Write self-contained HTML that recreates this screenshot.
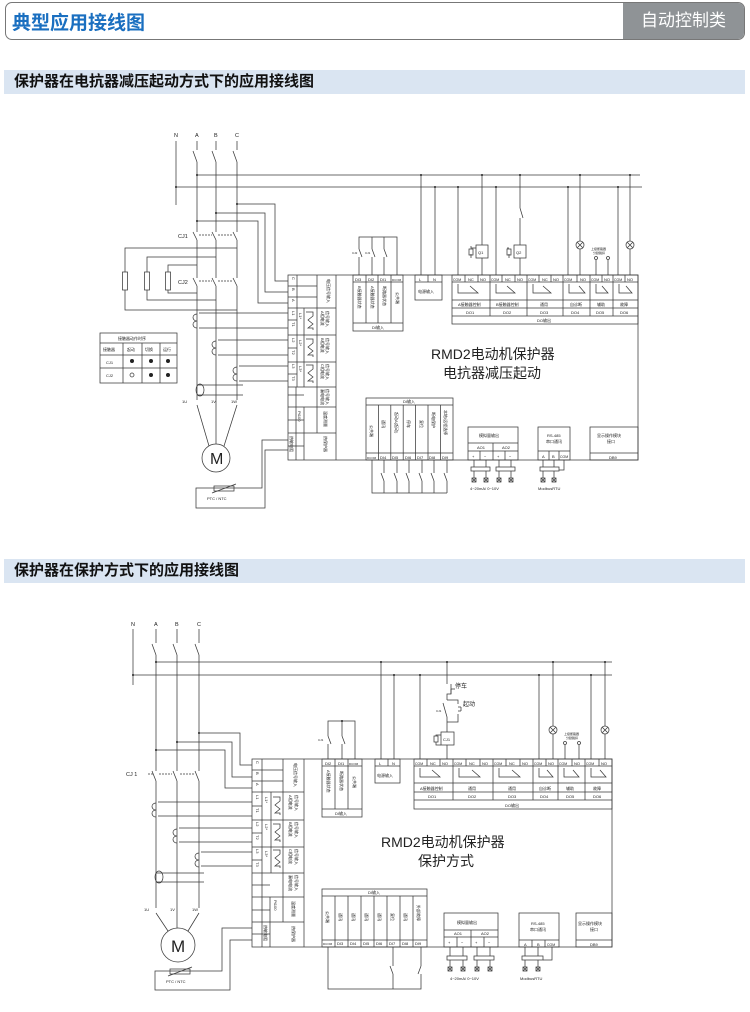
<!DOCTYPE html>
<html><head><meta charset="utf-8"><style>
html,body{margin:0;padding:0;background:#fff;}
body{width:750px;height:1012px;position:relative;overflow:hidden;font-family:"Liberation Sans","Noto Sans CJK SC",sans-serif;}
.hdr{position:absolute;left:5px;top:2px;width:738px;height:36px;border:1px solid #777;border-radius:7px;overflow:hidden;}
.hdr .t{position:absolute;left:6px;top:5px;font-size:19px;font-weight:bold;color:#1a6fc0;}
.hdr .g{position:absolute;right:0;top:0;width:121px;height:36px;background:#8f9396;color:#fff;font-size:17px;line-height:36px;text-align:center;}
.bar{position:absolute;left:4px;width:741px;height:24px;background:#dae5f2;font-size:15px;font-weight:bold;color:#111;line-height:24px;text-indent:10px;}
svg{position:absolute;left:0;top:0;}
svg line,svg path,svg rect,svg circle,svg ellipse{stroke:#3a3a3a;stroke-width:.75;fill:none;}
svg text{font-family:"Liberation Sans","Noto Sans CJK SC",sans-serif;fill:#222;stroke:none;}
.s{font-size:4px;}
.m{font-size:5.5px;}
.dot{fill:#222 !important;stroke:none !important;}
.wm{font-size:46px;fill:none;stroke:#e6e6e6 !important;stroke-width:.8;}
</style></head><body>
<div class="hdr"><div class="t">典型应用接线图</div><div class="g">自动控制类</div></div>
<div class="bar" style="top:70px">保护器在电抗器减压起动方式下的应用接线图</div>
<div class="bar" style="top:559px">保护器在保护方式下的应用接线图</div>

<svg width="750" height="1012" viewBox="0 0 750 1012">
<!-- ============ DIAGRAM 1 ============ -->
<g>
<text x="174" y="137" class="m">N</text><text x="195" y="137" class="m">A</text><text x="214" y="137" class="m">B</text><text x="235" y="137" class="m">C</text>
<line x1="176" y1="141" x2="176" y2="205"/>
<path d="M197 141V150M197 162L193 151M197 162V232M197 240L193 232M197 240V278M197 286L193 278M197 286V400"/>
<path d="M216 141V150M216 162L212 151M216 162V232M216 240L212 232M216 240V278M216 286L212 278M216 286V444"/>
<path d="M237 141V150M237 162L233 151M237 162V232M237 240L233 232M237 240V278M237 286L233 278M237 286V400"/>
<path d="M199 235H212M218 235H232M199 281H212M218 281H232" stroke-dasharray="2,1"/>
<text x="178" y="238" class="m">CJ1</text><text x="178" y="284" class="m">CJ2</text>
<line x1="197" y1="175" x2="640" y2="175"/><line x1="176" y1="187" x2="642" y2="187"/>
<circle cx="197" cy="175" r="1" class="dot"/><circle cx="176" cy="187" r="1" class="dot"/>
<!-- resistors -->
<path d="M237 248H125V272M125 290V310H237"/><rect x="122.5" y="272" width="5" height="18"/>
<path d="M216 257H147V272M147 290V300H216"/><rect x="144.5" y="272" width="5" height="18"/>
<path d="M197 265H168V272M168 290V293H197"/><rect x="165.5" y="272" width="5" height="18"/>
<!-- wires to ABC -->
<path d="M237 204H275V281H288"/><path d="M216 213H265V292H288"/><path d="M197 221H258V303H288"/>
<circle cx="237" cy="204" r="1" class="dot"/><circle cx="216" cy="213" r="1" class="dot"/><circle cx="197" cy="221" r="1" class="dot"/>
<!-- CTs -->
<path d="M199 313H288M199 328H288"/><path d="M197 314a4 3.5 0 1 0 0 7a4 3.5 0 1 0 0 7"/>
<path d="M218 340H288M218 355H288"/><path d="M216 341a4 3.5 0 1 0 0 7a4 3.5 0 1 0 0 7"/>
<path d="M239 366H288M239 381H288"/><path d="M237 367a4 3.5 0 1 0 0 7a4 3.5 0 1 0 0 7"/>
<path d="M197 385H243M197 395H243"/><ellipse cx="200" cy="390" rx="4" ry="6"/>
<!-- motor -->
<text x="182" y="403" class="s">1U</text><text x="211" y="403" class="s">1V</text><text x="231" y="403" class="s">1W</text>
<path d="M197 405L209 446M237 405L224 446"/>
<circle cx="216" cy="458" r="14"/><text x="210" y="464" style="font-size:16px">M</text>
<path d="M288 440H262V488H196V508H265V450H288"/>
<rect x="214" y="486" width="20" height="5"/><path d="M212 493L236 484"/>
<text x="207" y="500" class="s">PTC / NTC</text>
<!-- table -->
<rect x="100" y="333" width="77" height="50"/>
<path d="M100 343H177M100 355H177M100 368H177M123 343V383M142 343V383M160 343V383"/>
<text x="118" y="340" class="s">接触器动作时序</text>
<text x="103" y="351" class="s">接触器</text><text x="127" y="351" class="s">起动</text><text x="145" y="351" class="s">切换</text><text x="163" y="351" class="s">运行</text>
<text x="106" y="364" class="s">CJ1</text><text x="106" y="377" class="s">CJ2</text>
<circle cx="132" cy="361" r="2" class="dot"/><circle cx="151" cy="361" r="2" class="dot"/><circle cx="168" cy="361" r="2" class="dot"/>
<circle cx="132" cy="375" r="2"/><circle cx="151" cy="375" r="2" class="dot"/><circle cx="168" cy="375" r="2" class="dot"/>
<!-- module -->
<rect x="288" y="275" width="350" height="185"/>
<line x1="336" y1="275" x2="336" y2="460"/>
<path d="M288 286H317M288 297H317M288 308H336M288 335H336M288 362H336M288 387H336M288 407H336M288 433H336"/>
<path d="M297 275V308M297 308V387M304 308V387M317 275V433M304 407V460M296 387V460M288 320H297M288 348H297M288 374H297M288 395H304M288 420H304M288 446H304"/>
<text class="s" transform="translate(292,277) rotate(90)">C</text><text class="s" transform="translate(292,288) rotate(90)">B</text><text class="s" transform="translate(292,299) rotate(90)">A</text>
<text class="s" transform="translate(327,279) rotate(90)">电压信号输入</text>
<text class="s" transform="translate(292,311) rotate(90)">L1</text><text class="s" transform="translate(292,322) rotate(90)">T1</text><text class="s" transform="translate(299,313) rotate(90)">L1*</text>
<text class="s" transform="translate(292,338) rotate(90)">L2</text><text class="s" transform="translate(292,350) rotate(90)">T2</text><text class="s" transform="translate(299,340) rotate(90)">L2*</text>
<text class="s" transform="translate(292,364) rotate(90)">L3</text><text class="s" transform="translate(292,376) rotate(90)">T3</text><text class="s" transform="translate(299,366) rotate(90)">L3*</text>
<path d="M306 312H313V316L308 320L313 324L308 328H313V330"/><path d="M306 339H313V343L308 347L313 351L308 355H313V357"/><path d="M306 365H313V369L308 373L313 377L308 381H313V383"/>
<text class="s" transform="translate(321,311) rotate(90)">A相电流</text><text class="s" transform="translate(326,311) rotate(90)">信号输入</text>
<text class="s" transform="translate(321,338) rotate(90)">B相电流</text><text class="s" transform="translate(326,338) rotate(90)">信号输入</text>
<text class="s" transform="translate(321,364) rotate(90)">C相电流</text><text class="s" transform="translate(326,364) rotate(90)">信号输入</text>
<text class="s" transform="translate(321,389) rotate(90)">漏电电流</text><text class="s" transform="translate(326,389) rotate(90)">信号输入</text>
<text class="s" transform="translate(298,411) rotate(90)">Pt100</text><text class="s" transform="translate(324,411) rotate(90)">温度测量</text>
<text class="s" transform="translate(290,436) rotate(90)">热敏电阻</text><text class="s" transform="translate(324,436) rotate(90)">热保护器</text>
<!-- DI top -->
<rect x="353" y="275" width="50" height="56"/><path d="M353 282H403M353 323H403M366 275V323M378 275V323M391 275V323"/>
<text x="355" y="281" class="s">DI3</text><text x="368" y="281" class="s">DI2</text><text x="380" y="281" class="s">DI1</text><text x="392" y="281" style="font-size:3px">DCOM</text>
<text class="s" transform="translate(358,286) rotate(90)">B接触器状态</text><text class="s" transform="translate(371,286) rotate(90)">A接触器状态</text><text class="s" transform="translate(383,286) rotate(90)">断路器状态</text><text class="s" transform="translate(396,292) rotate(90)">公共端</text>
<text x="372" y="329" class="s">DI输入</text>
<path d="M359 275V257M359 249L362 257M359 249V237H397V275M372 275V257M372 249L375 257M372 249V237M384 275V257M384 249L387 257M384 249V237"/>
<text x="352" y="254" style="font-size:3px">CJ2</text><text x="365" y="254" style="font-size:3px">CJ1</text>
<!-- power -->
<rect x="415" y="275" width="27" height="25"/><path d="M415 282H442M428 275V282"/>
<text x="419" y="281" class="s">L</text><text x="433" y="281" class="s">N</text><text x="418" y="293" class="s">电源输入</text>
<path d="M421 275V175M435 275V187"/><circle cx="421" cy="175" r="1" class="dot"/><circle cx="435" cy="187" r="1" class="dot"/>
<!-- DO -->
<rect x="452" y="275" width="186" height="49"/>
<path d="M452 282H638M452 300H638M452 308H638M452 316H638M490 275V316M527 275V316M563 275V316M590 275V316M613 275V316"/>
<path d="M465 275V282M478 275V282M502 275V282M515 275V282M539 275V282M551 275V282M577 275V282M602 275V282M625 275V282"/>
<g class="s"><text x="453" y="281" style="font-size:3.5px">COM</text><text x="468" y="281">NC</text><text x="480" y="281">NO</text>
<text x="491" y="281" style="font-size:3.5px">COM</text><text x="505" y="281">NC</text><text x="517" y="281">NO</text>
<text x="528" y="281" style="font-size:3.5px">COM</text><text x="542" y="281">NC</text><text x="553" y="281">NO</text>
<text x="564" y="281" style="font-size:3.5px">COM</text><text x="580" y="281">NO</text>
<text x="591" y="281" style="font-size:3.5px">COM</text><text x="604" y="281">NO</text>
<text x="614" y="281" style="font-size:3.5px">COM</text><text x="627" y="281">NO</text></g>
<path d="M458 284V293H478L470 286M496 284V293H515L507 286M533 284V293H551L543 286M569 284V293H585L579 286M596 284V293H608L602 286M619 284V293H632L626 286"/>
<g class="s"><text x="458" y="306">A接触器控制</text><text x="496" y="306">B接触器控制</text><text x="540" y="306">通用</text><text x="570" y="306">自诊断</text><text x="597" y="306">辅助</text><text x="620" y="306">故障</text>
<text x="466" y="314">DO1</text><text x="503" y="314">DO2</text><text x="540" y="314">DO3</text><text x="571" y="314">DO4</text><text x="596" y="314">DO5</text><text x="620" y="314">DO6</text>
<text x="537" y="322">DO输出</text></g>
<path d="M458 275V187M496 275V187M568 275V187M618 275V187"/>
<path d="M482 275V258M482 245V175M520 275V258M520 245V218M520 208L523 218M520 208V175"/>
<rect x="476" y="245" width="12" height="13"/><text x="478" y="254" class="s">Q1</text>
<rect x="514" y="245" width="12" height="13"/><text x="516" y="254" class="s">Q2</text>
<path d="M476 248H471V246M471 258V254M507 248H509M509 258V254" /><rect x="469" y="249" width="4" height="6"/><rect x="507" y="249" width="4" height="6"/>
<path d="M580 275V249M580 241V175M630 275V249M630 241V175"/>
<circle cx="580" cy="245" r="4"/><path d="M577 242L583 248M583 242L577 248"/>
<circle cx="630" cy="245" r="4"/><path d="M627 242L633 248M633 242L627 248"/>
<text x="591" y="250" style="font-size:3px">上级断路器</text><text x="593" y="254" style="font-size:3px">分励脱扣</text>
<path d="M596 275V260M608 275V260"/><circle cx="596" cy="258" r="1.5"/><circle cx="608" cy="258" r="1.5"/>
<circle cx="458" cy="187" r="1" class="dot"/><circle cx="496" cy="187" r="1" class="dot"/><circle cx="568" cy="187" r="1" class="dot"/><circle cx="618" cy="187" r="1" class="dot"/>
<circle cx="482" cy="175" r="1" class="dot"/><circle cx="520" cy="175" r="1" class="dot"/><circle cx="580" cy="175" r="1" class="dot"/><circle cx="630" cy="175" r="1" class="dot"/>
<text x="431" y="359" style="font-size:14px">RMD2电动机保护器</text>
<text x="443" y="378" style="font-size:14px">电抗器减压起动</text>
<!-- DI bottom -->
<rect x="366" y="398" width="87" height="62"/><path d="M366 405H453M366 453H453"/>
<path d="M378.4 405V460M390.8 405V460M403.2 405V460M415.6 405V460M428 405V460M440.4 405V460"/>
<text x="403" y="403" class="s">DI输入</text>
<g class="s"><text transform="translate(370,425) rotate(90)">公共端</text><text transform="translate(382,420) rotate(90)">通讯</text><text transform="translate(395,412) rotate(90)">起动A(起动)</text><text transform="translate(407,420) rotate(90)">停车</text><text transform="translate(420,420) rotate(90)">复位</text><text transform="translate(432,412) rotate(90)">断电保护</text><text transform="translate(444,410) rotate(90)">本地/远程选择</text>
<text x="367" y="459" style="font-size:3px">DCOM</text><text x="380" y="459">DI4</text><text x="392" y="459">DI5</text><text x="405" y="459">DI6</text><text x="417" y="459">DI7</text><text x="429" y="459">DI8</text><text x="442" y="459">DI9</text></g>
<path d="M372 460V493H447M384 460V473M384 481L381 473M384 481V493M397 460V473M397 481L394 473M397 481V493M409 460V473M409 481L406 473M409 481V493M422 460V473M422 481L419 473M422 481V493M434 460V473M434 481L431 473M434 481V493M447 460V473M447 481L444 473M447 481V493"/>
<!-- analog -->
<rect x="468" y="427" width="50" height="33"/><path d="M468 443H518M468 451H518M493 443V460M480 451V460M505 451V460"/>
<text x="479" y="437" class="s">模拟量输出</text><text x="477" y="449" class="s">AO1</text><text x="502" y="449" class="s">AO2</text>
<text x="472" y="458" class="s">+</text><text x="484" y="458" class="s">−</text><text x="497" y="458" class="s">+</text><text x="509" y="458" class="s">−</text>
<path d="M474 460V467M486 460V467M499 460V467M511 460V467M474 471V478M486 471V478M499 471V478M511 471V478"/>
<rect x="471" y="467" width="19" height="4"/><rect x="496" y="467" width="19" height="4"/>
<g><rect x="472" y="478" width="4" height="4"/><path d="M472 478l4 4M476 478l-4 4"/><rect x="484" y="478" width="4" height="4"/><path d="M484 478l4 4M488 478l-4 4"/><rect x="497" y="478" width="4" height="4"/><path d="M497 478l4 4M501 478l-4 4"/><rect x="509" y="478" width="4" height="4"/><path d="M509 478l4 4M513 478l-4 4"/></g>
<text x="470" y="490" class="s">4~20mA/  0~10V</text>
<!-- 485 -->
<rect x="538" y="427" width="32" height="33"/><path d="M538 451H570M549 451V460M559 451V460"/>
<text x="547" y="437" class="s">RS-485</text><text x="546" y="443" class="s">串口通讯</text>
<text x="542" y="458" class="s">A</text><text x="552" y="458" class="s">B</text><text x="560" y="458" style="font-size:3.5px">COM</text>
<path d="M543 460V467M554 460V467M564 460V470H559M543 471V478M554 471V478"/><rect x="540" y="467" width="19" height="4"/>
<rect x="541" y="478" width="4" height="4"/><path d="M541 478l4 4M545 478l-4 4"/><rect x="552" y="478" width="4" height="4"/><path d="M552 478l4 4M556 478l-4 4"/>
<text x="538" y="490" class="s">ModbusRTU</text>
<rect x="590" y="427" width="48" height="33"/><path d="M590 453H638"/>
<text x="597" y="437" class="s">显示操作模块</text><text x="607" y="443" class="s">接口</text><text x="609" y="459" class="s">DB9</text>
</g>

<!-- ============ DIAGRAM 2 ============ -->
<g>
<text x="131" y="626" class="m">N</text><text x="154" y="626" class="m">A</text><text x="175" y="626" class="m">B</text><text x="197" y="626" class="m">C</text>
<line x1="133" y1="629" x2="133" y2="685"/>
<path d="M156 629V643M156 655L152 644M156 655V771M156 781L152 771M156 781V908"/>
<path d="M177 629V643M177 655L173 644M177 655V771M177 781L173 771M177 781V928"/>
<path d="M199 629V643M199 655L195 644M199 655V771M199 781L195 771M199 781V908"/>
<path d="M148 774H154M159 774H172M180 774H195" stroke-dasharray="2,1"/>
<text x="126" y="776" class="m">CJ 1</text>
<line x1="156" y1="662" x2="612" y2="662"/><line x1="133" y1="675" x2="612" y2="675"/>
<circle cx="156" cy="662" r="1" class="dot"/><circle cx="133" cy="675" r="1" class="dot"/>
<path d="M199 733H240V765H252"/><path d="M177 742H232V777H252"/><path d="M156 750H225V788H252"/>
<circle cx="199" cy="733" r="1" class="dot"/><circle cx="177" cy="742" r="1" class="dot"/><circle cx="156" cy="750" r="1" class="dot"/>
<path d="M158 802H252M158 816H252"/><path d="M156 803a4 3.5 0 1 0 0 7a4 3.5 0 1 0 0 7"/>
<path d="M179 828H252M179 842H252"/><path d="M177 829a4 3.5 0 1 0 0 7a4 3.5 0 1 0 0 7"/>
<path d="M201 852H252M201 866H252"/><path d="M199 853a4 3.5 0 1 0 0 7a4 3.5 0 1 0 0 7"/>
<path d="M156 873H204M156 882H204"/><ellipse cx="159" cy="877" rx="4" ry="6"/>
<text x="144" y="911" class="s">1U</text><text x="170" y="911" class="s">1V</text><text x="192" y="911" class="s">1W</text>
<path d="M156 913L168 931M199 913L188 931"/>
<circle cx="178" cy="945" r="17"/><text x="171" y="952" style="font-size:17px">M</text>
<path d="M252 928H222V971H155V990H230V940H252"/>
<rect x="170" y="969" width="20" height="5"/><path d="M168 976L192 967"/>
<text x="166" y="983" class="s">PTC / NTC</text>
<!-- module -->
<rect x="252" y="759" width="360" height="188"/>
<line x1="304" y1="759" x2="304" y2="947"/>
<path d="M252 770H283M252 781H283M252 792H304M252 820H304M252 847H304M252 873H304M252 897H304M252 922H304"/>
<path d="M262 759V873M271 792V873M283 759V922M270 897V947M262 873V947M252 806H262M252 833H262M252 860H262M252 885H270M252 910H270M252 934H270"/>
<text class="s" transform="translate(256,761) rotate(90)">C</text><text class="s" transform="translate(256,772) rotate(90)">B</text><text class="s" transform="translate(256,783) rotate(90)">A</text>
<text class="s" transform="translate(294,763) rotate(90)">电压信号输入</text>
<text class="s" transform="translate(256,795) rotate(90)">L1</text><text class="s" transform="translate(256,808) rotate(90)">T1</text><text class="s" transform="translate(265,797) rotate(90)">L1*</text>
<text class="s" transform="translate(256,822) rotate(90)">L2</text><text class="s" transform="translate(256,835) rotate(90)">T2</text><text class="s" transform="translate(265,824) rotate(90)">L2*</text>
<text class="s" transform="translate(256,849) rotate(90)">L3</text><text class="s" transform="translate(256,862) rotate(90)">T3</text><text class="s" transform="translate(265,851) rotate(90)">L3*</text>
<path d="M273 797H280V801L275 805L280 809L275 813H280V815"/><path d="M273 824H280V828L275 832L280 836L275 840H280V842"/><path d="M273 850H280V854L275 858L280 862L275 866H280V868"/>
<text class="s" transform="translate(289,795) rotate(90)">A相电流</text><text class="s" transform="translate(295,795) rotate(90)">信号输入</text>
<text class="s" transform="translate(289,822) rotate(90)">B相电流</text><text class="s" transform="translate(295,822) rotate(90)">信号输入</text>
<text class="s" transform="translate(289,849) rotate(90)">C相电流</text><text class="s" transform="translate(295,849) rotate(90)">信号输入</text>
<text class="s" transform="translate(289,875) rotate(90)">漏电电流</text><text class="s" transform="translate(295,875) rotate(90)">信号输入</text>
<text class="s" transform="translate(274,900) rotate(90)">Pt100</text><text class="s" transform="translate(292,901) rotate(90)">温度测量</text>
<text class="s" transform="translate(264,925) rotate(90)">热敏电阻</text><text class="s" transform="translate(292,926) rotate(90)">热保护器</text>
<!-- DI top -->
<rect x="322" y="759" width="40" height="58"/><path d="M322 766H362M322 809H362M335 759V809M348 759V809"/>
<text x="325" y="765" class="s">DI2</text><text x="338" y="765" class="s">DI1</text><text x="349" y="765" style="font-size:3px">DCOM</text>
<text class="s" transform="translate(327,770) rotate(90)">A接触器状态</text><text class="s" transform="translate(340,771) rotate(90)">断路器状态</text><text class="s" transform="translate(353,776) rotate(90)">公共端</text>
<text x="335" y="815" class="s">DI输入</text>
<path d="M328 759V744M328 736L331 744M328 736V721H355V759M342 759V744M342 736L345 744M342 736V721"/>
<circle cx="342" cy="721" r="1" class="dot"/>
<text x="318" y="741" style="font-size:3px">CJ1</text>
<!-- power -->
<rect x="375" y="759" width="25" height="24"/><path d="M375 766H400M388 759V766"/>
<text x="379" y="765" class="s">L</text><text x="392" y="765" class="s">N</text><text x="377" y="777" class="s">电源输入</text>
<path d="M381 759V662M394 759V675"/><circle cx="381" cy="662" r="1" class="dot"/><circle cx="394" cy="675" r="1" class="dot"/>
<!-- DO -->
<rect x="414" y="759" width="198" height="50"/>
<path d="M414 766H612M414 783H612M414 792H612M414 800H612M453 759V800M493 759V800M533 759V800M558 759V800M585 759V800"/>
<path d="M427 759V766M440 759V766M466 759V766M480 759V766M506 759V766M520 759V766M546 759V766M572 759V766M599 759V766"/>
<g class="s"><text x="415" y="765" style="font-size:3.5px">COM</text><text x="430" y="765">NC</text><text x="442" y="765">NO</text>
<text x="454" y="765" style="font-size:3.5px">COM</text><text x="469" y="765">NC</text><text x="482" y="765">NO</text>
<text x="494" y="765" style="font-size:3.5px">COM</text><text x="509" y="765">NC</text><text x="522" y="765">NO</text>
<text x="534" y="765" style="font-size:3.5px">COM</text><text x="548" y="765">NO</text>
<text x="559" y="765" style="font-size:3.5px">COM</text><text x="574" y="765">NO</text>
<text x="586" y="765" style="font-size:3.5px">COM</text><text x="601" y="765">NO</text></g>
<path d="M420 768V777H440L432 770M459 768V777H480L472 770M499 768V777H520L512 770M539 768V777H553L547 770M564 768V777H579L573 770M591 768V777H606L600 770"/>
<g class="s"><text x="420" y="790">A接触器控制</text><text x="468" y="790">通用</text><text x="508" y="790">通用</text><text x="539" y="790">自诊断</text><text x="566" y="790">辅助</text><text x="593" y="790">故障</text>
<text x="428" y="798">DO1</text><text x="468" y="798">DO2</text><text x="508" y="798">DO3</text><text x="540" y="798">DO4</text><text x="566" y="798">DO5</text><text x="593" y="798">DO6</text>
<text x="505" y="807">DO输出</text></g>
<path d="M420 759V675M539 759V675M591 759V675"/>
<circle cx="420" cy="675" r="1" class="dot"/><circle cx="539" cy="675" r="1" class="dot"/><circle cx="591" cy="675" r="1" class="dot"/>
<path d="M447 759V745M447 732V722M447 722V717M447 700V694H451V684M447 684V662M447 700H458V704M458 714V722H447M447 722V717L443 703M461 707V711M458 707H461M458 711H461"/>
<path d="M451 689H455M451 689V694"/>
<text x="455" y="688" style="font-size:6px">停车</text><text x="463" y="706" style="font-size:6px">起动</text>
<text x="436" y="712" style="font-size:3px">CJ1</text>
<rect x="441" y="732" width="13" height="13"/><text x="443" y="741" class="s">CJ1</text>
<path d="M441 735H436V736M436 742V745H441"/><rect x="434" y="736" width="4" height="6"/>
<circle cx="447" cy="662" r="1" class="dot"/>
<path d="M553 759V734M553 726V662M605 759V734M605 726V662"/>
<circle cx="553" cy="730" r="4"/><path d="M550 727L556 733M556 727L550 733"/>
<circle cx="605" cy="730" r="4"/><path d="M602 727L608 733M608 727L602 733"/>
<circle cx="553" cy="662" r="1" class="dot"/><circle cx="605" cy="662" r="1" class="dot"/>
<text x="564" y="735" style="font-size:3px">上级断路器</text><text x="566" y="739" style="font-size:3px">分励脱扣</text>
<path d="M565 759V745M579 759V745"/><circle cx="565" cy="743" r="1.5"/><circle cx="579" cy="743" r="1.5"/>
<text x="381" y="847" style="font-size:14px">RMD2电动机保护器</text>
<text x="418" y="866" style="font-size:14px">保护方式</text>
<!-- DI bottom -->
<rect x="322" y="889" width="105" height="58"/><path d="M322 896H427M322 940H427"/>
<path d="M335 896V947M348 896V947M361 896V947M374 896V947M387 896V947M400 896V947M413 896V947"/>
<text x="368" y="894" class="s">DI输入</text>
<g class="s"><text transform="translate(326,911) rotate(90)">公共端</text><text transform="translate(339,913) rotate(90)">通讯</text><text transform="translate(352,913) rotate(90)">通讯</text><text transform="translate(365,913) rotate(90)">通讯</text><text transform="translate(378,913) rotate(90)">通讯</text><text transform="translate(391,913) rotate(90)">复位</text><text transform="translate(404,913) rotate(90)">通讯</text><text transform="translate(417,905) rotate(90)">外部故障</text>
<text x="323" y="945" style="font-size:3px">DCOM</text><text x="337" y="945">DI3</text><text x="350" y="945">DI4</text><text x="363" y="945">DI5</text><text x="376" y="945">DI6</text><text x="389" y="945">DI7</text><text x="402" y="945">DI8</text><text x="415" y="945">DI9</text></g>
<path d="M328 947V989H421V974M421 966L418 974M421 966V947M393 947V966H393M393 966V958M393 974V989M393 974L390 966"/>
<!-- analog -->
<rect x="444" y="913" width="54" height="34"/><path d="M444 930H498M444 937H498M471 930V947M457 937V947M484 937V947"/>
<text x="457" y="924" class="s">模拟量输出</text><text x="454" y="935" class="s">AO1</text><text x="481" y="935" class="s">AO2</text>
<text x="448" y="944" class="s">+</text><text x="461" y="944" class="s">−</text><text x="475" y="944" class="s">+</text><text x="488" y="944" class="s">−</text>
<path d="M450 947V956M463 947V956M477 947V956M490 947V956M450 960V967M463 960V967M477 960V967M490 960V967"/>
<rect x="447" y="956" width="20" height="4"/><rect x="474" y="956" width="20" height="4"/>
<rect x="448" y="967" width="4" height="4"/><path d="M448 967l4 4M452 967l-4 4"/><rect x="461" y="967" width="4" height="4"/><path d="M461 967l4 4M465 967l-4 4"/><rect x="475" y="967" width="4" height="4"/><path d="M475 967l4 4M479 967l-4 4"/><rect x="488" y="967" width="4" height="4"/><path d="M488 967l4 4M492 967l-4 4"/>
<text x="450" y="980" class="s">4~20mA/  0~10V</text>
<rect x="519" y="913" width="40" height="34"/><path d="M519 940H559M532 940V947M545 940V947"/>
<text x="531" y="925" class="s">RS-485</text><text x="530" y="931" class="s">串口通讯</text>
<text x="524" y="946" class="s">A</text><text x="537" y="946" class="s">B</text><text x="547" y="946" style="font-size:3.5px">COM</text>
<path d="M525 947V956M538 947V956M552 947V960H543M525 960V967M538 960V967"/><rect x="522" y="956" width="21" height="4"/>
<rect x="523" y="967" width="4" height="4"/><path d="M523 967l4 4M527 967l-4 4"/><rect x="536" y="967" width="4" height="4"/><path d="M536 967l4 4M540 967l-4 4"/>
<text x="520" y="980" class="s">ModbusRTU</text>
<rect x="576" y="913" width="36" height="34"/><path d="M576 940H612"/>
<text x="578" y="925" class="s">显示操作模块</text><text x="590" y="931" class="s">接口</text><text x="590" y="946" class="s">DB9</text>
</g>
</svg>
</body></html>
